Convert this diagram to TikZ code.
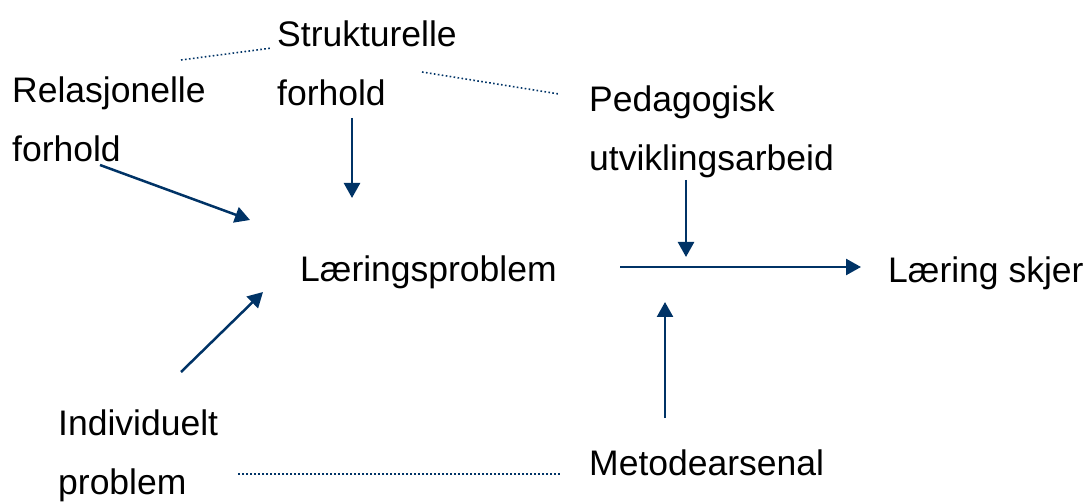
\documentclass[tikz,border=0pt]{standalone}
\usepackage{fontspec}
\setmainfont{Liberation Sans}
\usetikzlibrary{arrows.meta}

\definecolor{navy}{HTML}{003366}

\tikzset{
  lbl/.style={inner sep=0pt, anchor=base west, align=left, font=\fontsize{35.5}{59}\selectfont},
  pil/.style={draw=navy, line width=2.5pt, -{Triangle[length=15pt, width=16pt]}},
  prikk/.style={draw=navy, line width=1.6pt, dash pattern=on 1.6pt off 2.4pt}
}

\begin{document}
\begin{tikzpicture}[x=1pt, y=-1pt]
\useasboundingbox (0,0) rectangle (1089,502);

% grunnlinjen til siste linje
\node[lbl] (strukt) at (277, 106) {Strukturelle\\forhold};
\node[lbl] (relas) at (12, 162) {Relasjonelle\\forhold};
\node[lbl] (pedag) at (589, 171) {Pedagogisk\\utviklingsarbeid};
\node[lbl] (laerprob) at (300, 282) {Læringsproblem};
\node[lbl] (skjer) at (888, 283) {Læring skjer};
\node[lbl] (indiv) at (58, 494) {Individuelt\\problem};
\node[lbl] (metode) at (589, 475) {Metodearsenal};

% ender for pilene
\coordinate (relasut) at (100, 165);
\coordinate (relasinn) at (250, 220);
\coordinate (struktut) at (352, 118);
\coordinate (struktinn) at (352, 198);
\coordinate (indivut) at (181, 372);
\coordinate (indivinn) at (263, 292);
\coordinate (pedagut) at (686, 180);
\coordinate (pedaginn) at (686, 257);
\coordinate (start) at (620, 267);
\coordinate (slutt) at (861, 267);
\coordinate (metodeut) at (665, 418);
\coordinate (metodeinn) at (665, 302);

\draw[pil] (relasut) -- (relasinn);
\draw[pil] (struktut) -- (struktinn);
\draw[pil] (indivut) -- (indivinn);
\draw[pil] (pedagut) -- (pedaginn);
\draw[pil] (start) -- (slutt);
\draw[pil] (metodeut) -- (metodeinn);

% prikkete linjer
\coordinate (p1) at (181, 60);
\coordinate (p2) at (272, 48);
\coordinate (p3) at (422, 72);
\coordinate (p4) at (559, 94);
\coordinate (p5) at (238, 474);
\coordinate (p6) at (560, 474);
\draw[prikk] (p1) -- (p2);
\draw[prikk] (p3) -- (p4);
\draw[prikk] (p5) -- (p6);

\end{tikzpicture}
\end{document}
